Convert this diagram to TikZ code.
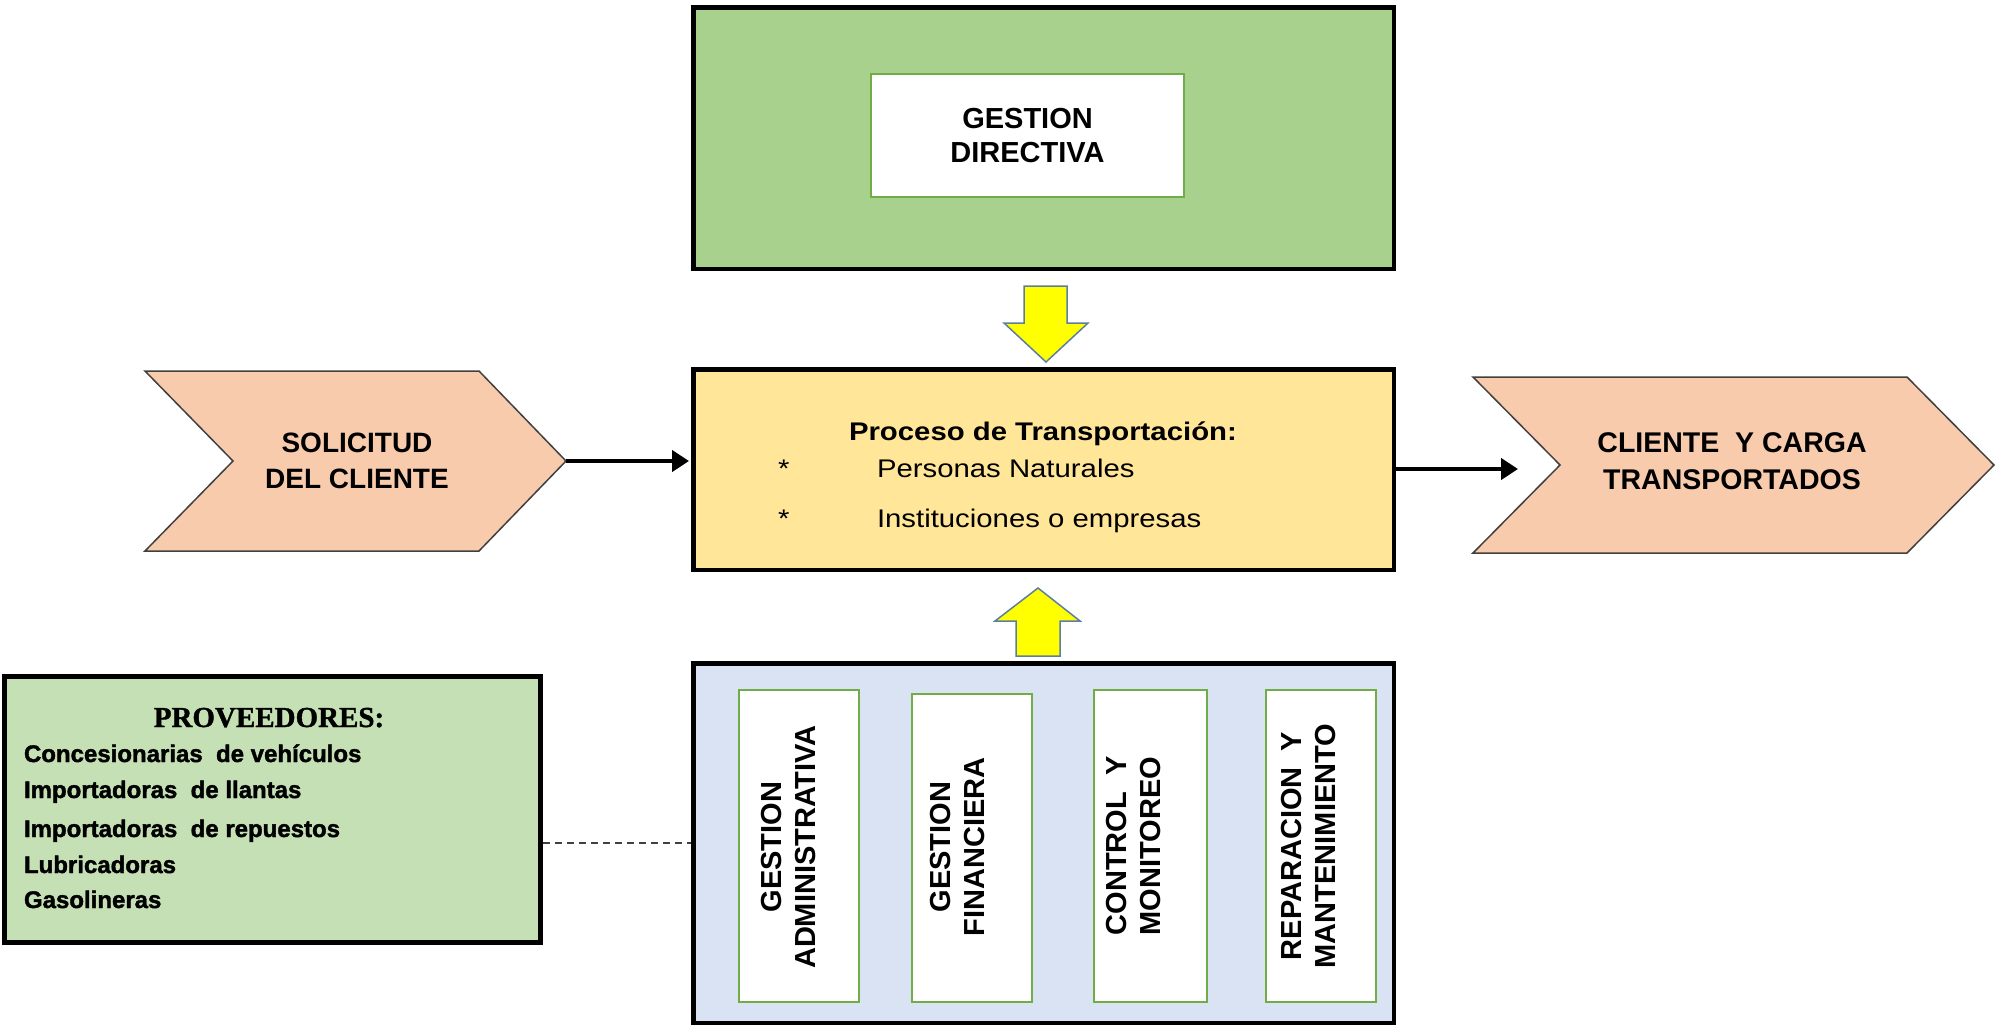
\documentclass[tikz,border=0pt]{standalone}
\usepackage{fontspec}
\setmainfont{Liberation Sans}
\newfontfamily\widesans{Liberation Sans}[FakeStretch=1.15]
\newfontfamily\heavysans{Liberation Sans}[FakeBold=1.6]
\newfontfamily\provserif{Liberation Serif}[FakeBold=1.2]
\usetikzlibrary{arrows.meta}

\definecolor{dirgreen}{HTML}{A9D18E}
\definecolor{unitedge}{HTML}{70AD47}
\definecolor{procgold}{HTML}{FFE699}
\definecolor{chevpeach}{HTML}{F8CBAD}
\definecolor{suppblue}{HTML}{DAE3F3}
\definecolor{provgreen}{HTML}{C5E0B4}
\definecolor{flowyellow}{HTML}{FFFF00}
\definecolor{flowedge}{HTML}{5B7FA0}

\newcommand\fsz[2]{\fontsize{#1}{#2}\selectfont}

\begin{document}
\begin{tikzpicture}[x=1pt, y=-1pt,
  bigbox/.style={draw=black, line width=4.5pt, inner sep=0pt, minimum width=700.5pt},
  unitbox/.style={draw=unitedge, fill=white, line width=2pt, inner sep=0pt},
  chev/.style={draw=black!75, line width=1.5pt, fill=chevpeach, line join=miter},
  flowarrow/.style={draw=flowedge, line width=1.5pt, fill=flowyellow, line join=miter},
  link/.style={line width=4.5pt, shorten >=2pt, -{Triangle[length=17pt,width=21pt]}},
  txt/.style={inner sep=0pt, outer sep=0pt},
  headtxt/.style={txt, align=center, font=\bfseries\fsz{28}{36}},
  coltxt/.style={txt, align=center, rotate=90, font=\bfseries\fsz{29}{34}},
  proctxt/.style={txt, anchor=base west, font=\widesans\fsz{25.5}{30}},
  provtxt/.style={txt, anchor=base west, font=\heavysans\bfseries\fsz{24}{30}}
]
% canvas
\fill[white] (0,0) rectangle (1997,1029);
\path[use as bounding box] (0,0) rectangle (1997,1029);

% direction block
\node[bigbox, fill=dirgreen, minimum height=261.5pt] (dir) at (1043.5,138) {};
\node[unitbox, line width=1.5pt, minimum width=313pt, minimum height=123pt,
      align=center, font=\bfseries\fsz{29}{34}] (dirin) at (1027.5,135.5)
      {GESTION\\DIRECTIVA};

% transport process block
\node[bigbox, fill=procgold, minimum height=200.5pt] (proc) at (1043.5,469.5) {};
\node[proctxt, font=\widesans\bfseries\fsz{25.5}{30}] (ptitle) at (849,440) {Proceso de Transportación:};
\node[proctxt] (pstarA) at (778,477) {*};
\node[proctxt] (pitemA) at (877,477) {Personas Naturales};
\node[proctxt] (pstarB) at (778,527) {*};
\node[proctxt] (pitemB) at (877,527) {Instituciones o empresas};

% support block with its four units
\node[bigbox, fill=suppblue, minimum height=359.5pt] (sup) at (1043.5,843) {};
\node[unitbox, minimum width=120pt, minimum height=312pt] (colA) at (799,846) {};
\node[unitbox, minimum width=120pt, minimum height=308pt] (colB) at (972,848) {};
\node[unitbox, minimum width=113pt, minimum height=312pt] (colC) at (1150.5,846) {};
\node[unitbox, minimum width=110pt, minimum height=312pt] (colD) at (1321,846) {};
\node[coltxt] (colAt) at (789,847) {GESTION\\ADMINISTRATIVA};
\node[coltxt] (colBt) at (958,847) {GESTION\\FINANCIERA};
\node[coltxt] (colCt) at (1134,846) {CONTROL\ \ Y\\MONITOREO};
\node[coltxt] (colDt) at (1309,846) {REPARACION\ \ Y\\MANTENIMIENTO};

% input and output chevrons
\draw[chev] (145,371) -- (479,371) -- (566,461) -- (479,551) -- (145,551) -- (233,461) -- cycle;
\coordinate (solTip) at (566,461);
\node[headtxt] (sol) at (357,461) {SOLICITUD\\DEL CLIENTE};

\draw[chev] (1473,377) -- (1907,377) -- (1994,465) -- (1907,553) -- (1473,553) -- (1560,465) -- cycle;
\coordinate (cliIn) at (1518,469);
\node[headtxt, font=\bfseries\fsz{28.5}{37}] (cli) at (1732,461) {CLIENTE\ \ Y CARGA\\TRANSPORTADOS};

% flow connectors
\draw[link] (solTip) -- (solTip -| proc.west);
\draw[link, shorten >=0pt] (proc.east |- cliIn) -- (cliIn);

% block arrows between layers
\draw[flowarrow] (1024,286) -- (1067,286) -- (1067,323) -- (1088,323) -- (1046,362)
  -- (1004,323) -- (1024,323) -- cycle;
\draw[flowarrow] (1016,656) -- (1016,621) -- (995,621) -- (1038,588) -- (1080,621)
  -- (1060,621) -- (1060,656) -- cycle;

% suppliers
\node[draw=black, line width=5pt, fill=provgreen, inner sep=0pt,
      minimum width=536pt, minimum height=266pt] (prov) at (272.5,809.5) {};
\node[txt, anchor=base, font=\provserif\bfseries\fsz{29}{34}] (provT) at (269,727) {PROVEEDORES:};
\node[provtxt] (provA) at (24,762) {Concesionarias\ \ de vehículos};
\node[provtxt] (provB) at (24,798) {Importadoras\ \ de llantas};
\node[provtxt] (provC) at (24,837) {Importadoras\ \ de repuestos};
\node[provtxt] (provD) at (24,873) {Lubricadoras};
\node[provtxt] (provE) at (24,908) {Gasolineras};

\draw[dash pattern=on 7pt off 5pt, line width=2pt, black!75] (prov.east |- sup.west) -- (sup.west);
\end{tikzpicture}
\end{document}
